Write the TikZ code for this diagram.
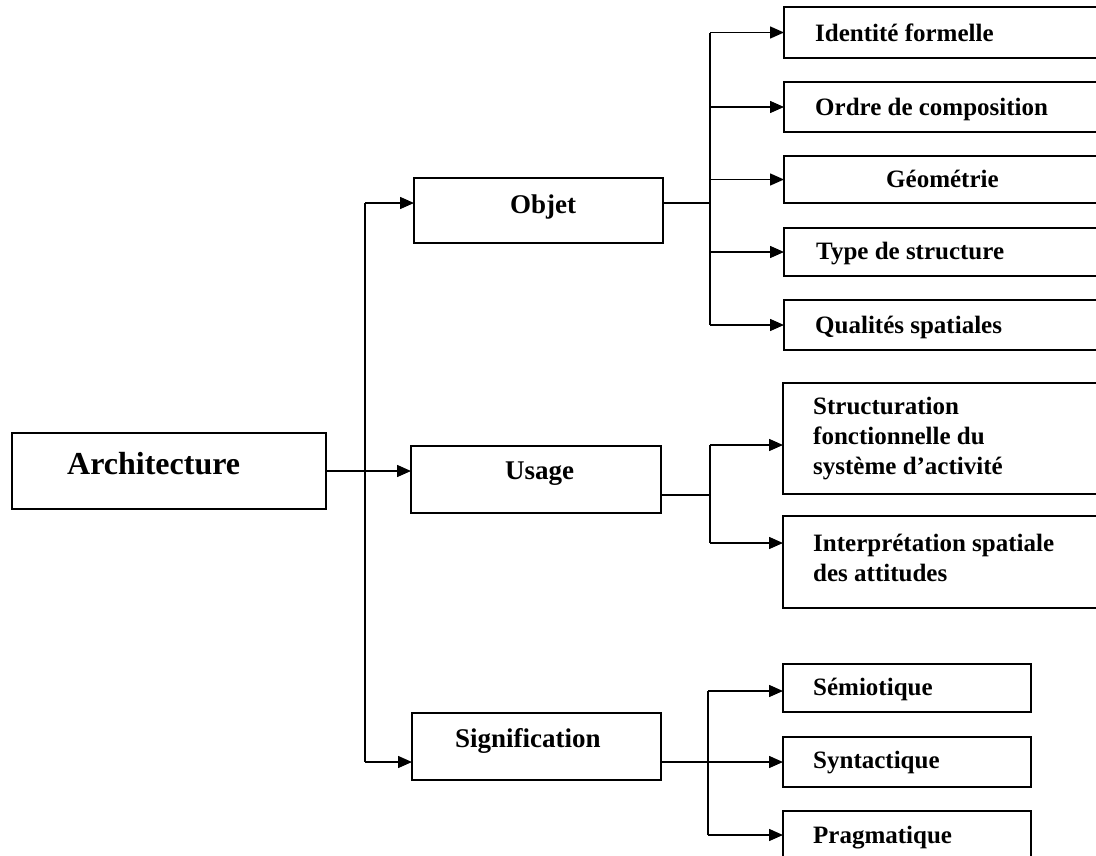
\documentclass[tikz,border=0pt]{standalone}
\usepackage{fontspec}
\setmainfont{Liberation Serif}
\usetikzlibrary{arrows.meta,calc}
\begin{document}
\begin{tikzpicture}[x=1pt,y=-1pt,
  box/.style={draw,line width=1.7pt,inner sep=0pt,outer sep=0pt,anchor=north west,rectangle},
  conn/.style={line width=1.5pt},
  arr/.style={conn,-{Triangle[length=14pt,width=12pt]}},
  lbl/.style={anchor=base west,inner sep=0pt,font=\bfseries\fontsize{25}{30}\selectfont,align=left},
  mlbl/.style={lbl,anchor=north west},
  mid/.style={lbl,font=\bfseries\fontsize{27}{32}\selectfont},
  big/.style={lbl,font=\bfseries\fontsize{32}{38}\selectfont},
]
\useasboundingbox (0,0) rectangle (1096,855);
\clip (0,0) rectangle (1096,855);

% boxes
\node[box,minimum width=314pt,minimum height=76pt] (arch) at (12,433) {};
\node[box,minimum width=249pt,minimum height=65pt] (objet) at (414,178) {};
\node[box,minimum width=250pt,minimum height=67pt] (usage) at (411,446) {};
\node[box,minimum width=249pt,minimum height=67pt] (sig) at (412,713) {};

\node[box,minimum width=330pt,minimum height=51pt] (r1) at (784,7) {};
\node[box,minimum width=330pt,minimum height=50pt] (r2) at (784,82) {};
\node[box,minimum width=330pt,minimum height=47pt] (r3) at (784,156) {};
\node[box,minimum width=330pt,minimum height=48pt] (r4) at (784,228) {};
\node[box,minimum width=330pt,minimum height=50pt] (r5) at (784,300) {};

\node[box,minimum width=330pt,minimum height=111pt] (u1) at (783,383) {};
\node[box,minimum width=330pt,minimum height=92pt] (u2) at (783,516) {};

\node[box,minimum width=248pt,minimum height=48pt] (s1) at (783,664) {};
\node[box,minimum width=248pt,minimum height=50pt] (s2) at (783,737) {};
\node[box,minimum width=248pt,minimum height=60pt] (s3) at (783,811) {};

% texts
\node[big] (archT) at (67,474) {Architecture};
\node[mid] (objetT) at (510,213) {Objet};
\node[mid] (usageT) at (505,479) {Usage};
\node[mid] (sigT) at (455,747) {Signification};

\node[lbl] (r1T) at (815,41) {Identité formelle};
\node[lbl] (r2T) at (815,115) {Ordre de composition};
\node[lbl] (r3T) at (886,187) {Géométrie};
\node[lbl] (r4T) at (816,259) {Type de structure};
\node[lbl] (r5T) at (815,333) {Qualités spatiales};

\node[mlbl] (u1T) at (813,397) {Structuration\\fonctionnelle du\\système d’activité};
\node[mlbl] (u2T) at (813,534) {Interprétation spatiale\\des attitudes};

\node[lbl] (s1T) at (813,695) {Sémiotique};
\node[lbl] (s2T) at (813,768) {Syntactique};
\node[lbl] (s3T) at (813,843) {Pragmatique};

% main bus
\coordinate (busA) at (365,203);
\coordinate (busB) at (365,762);
\draw[conn] (busA) -- (busB);
\draw[arr] (busA) -- (objet.west |- busA);
\draw[arr] (arch.east) -- (usage.west |- arch.east);
\draw[arr] (busB) -- (sig.west |- busB);

% objet cluster
\coordinate (oJ) at (710,203);
\draw[conn] (objet.east |- oJ) -- (oJ);
\draw[conn] (r1.west -| oJ) -- (r5.west -| oJ);
\foreach \r in {r1,r2,r3,r4,r5}
  \draw[arr] (\r.west -| oJ) -- (\r.west);

% usage cluster
\coordinate (uJ) at (710,495);
\coordinate (ua) at (710,445);
\coordinate (ub) at (710,543);
\draw[conn] (usage.east |- uJ) -- (uJ);
\draw[conn] (ua) -- (ub);
\draw[arr] (ua) -- (u1.west |- ua);
\draw[arr] (ub) -- (u2.west |- ub);

% signification cluster
\coordinate (sJ) at (708,762);
\coordinate (sa) at (708,691);
\coordinate (sb) at (708,835);
\draw[conn] (sig.east |- sJ) -- (sJ);
\draw[conn] (sa) -- (sb);
\draw[arr] (sa) -- (s1.west |- sa);
\draw[arr] (sJ) -- (s2.west |- sJ);
\draw[arr] (sb) -- (s3.west |- sb);
\end{tikzpicture}
\end{document}
